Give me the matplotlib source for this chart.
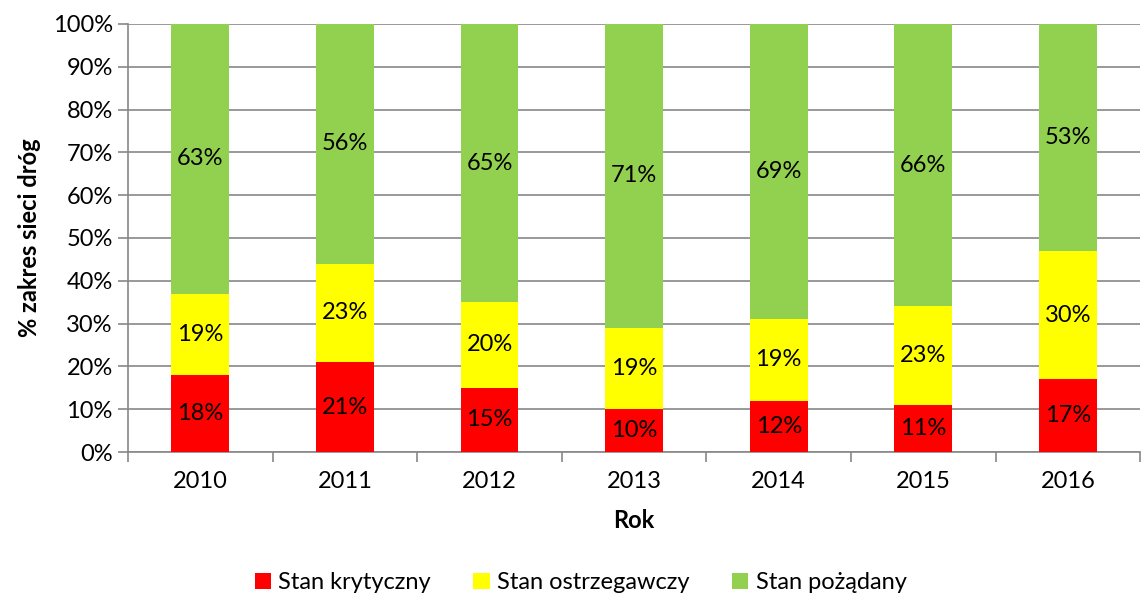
import matplotlib.pyplot as plt
import numpy as np

plt.rcParams['font.family'] = ['Lato', 'DejaVu Sans']

years = ['2010', '2011', '2012', '2013', '2014', '2015', '2016']
krytyczny = [18, 21, 15, 10, 12, 11, 17]
ostrzegawczy = [19, 23, 20, 19, 19, 23, 30]
pozadany = [63, 56, 65, 71, 69, 66, 53]

colors = ['#FF0000', '#FFFF00', '#92D050']
names = ['Stan krytyczny', 'Stan ostrzegawczy', 'Stan pożądany']

fs = 17

fig = plt.figure(figsize=(11.45, 5.99), dpi=100)
ax = fig.add_axes([0.1118, 0.2454, 0.884, 0.7146])

x = np.arange(len(years))
bottom = np.zeros(len(years))
for vals, c, n in zip([krytyczny, ostrzegawczy, pozadany], colors, names):
    vals = np.array(vals)
    ax.bar(x, vals, 0.4, bottom=bottom, color=c, label=n, zorder=3)
    for xi, b, v in zip(x, bottom, vals):
        ax.text(xi, b + v / 2, '%d%%' % v, ha='center', va='center',
                fontsize=fs, zorder=4)
    bottom += vals

ax.set_xlim(-0.5, len(years) - 0.5)
ax.set_ylim(0, 100)
ax.set_yticks(np.arange(0, 101, 10))
ax.set_yticklabels(['%d%%' % v for v in range(0, 101, 10)], fontsize=fs)
ax.set_xticks(x)
ax.set_xticklabels(years, fontsize=fs)
ax.set_xticks(np.arange(-0.5, len(years), 1), minor=True)
ax.tick_params(axis='x', which='major', length=0, pad=14)
ax.tick_params(axis='x', which='minor', length=7, color='#888888', width=1.2)
ax.tick_params(axis='y', length=7, color='#888888', width=1.2, pad=4)
ax.grid(axis='y', color='#888888', linewidth=1.2, zorder=0)
for s in ['top', 'right']:
    ax.spines[s].set_visible(False)
for s in ['left', 'bottom']:
    ax.spines[s].set_color('#888888')
    ax.spines[s].set_linewidth(1.2)

ax.set_xlabel('Rok', fontsize=fs, fontweight='bold', labelpad=12)
ax.set_ylabel('% zakres sieci dróg', fontsize=fs, fontweight='bold', labelpad=8)

fig.legend(*ax.get_legend_handles_labels(), loc='center', bbox_to_anchor=(0.507, 0.027),
           ncol=3, frameon=False, fontsize=fs, handlelength=0.7, handleheight=0.7,
           handletextpad=0.3, columnspacing=1.8)

plt.savefig('out.png', dpi=100)
